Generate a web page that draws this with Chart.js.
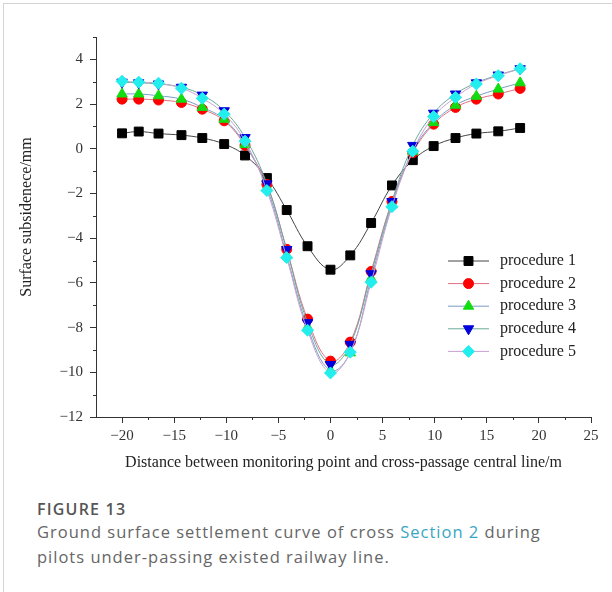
<!DOCTYPE html>
<html>
<head>
<meta charset="utf-8">
<script src="https://cdn.jsdelivr.net/npm/chart.js@4.4.1/dist/chart.umd.min.js"></script>
<style>
    html, body { margin: 0; padding: 0; background: #fff; }
    body { width: 612px; height: 592px; overflow: hidden; position: relative; }
    .card { position: absolute; left: 3px; top: 3px; width: 800px; height: 800px; border: 1px solid #d4d4d4; }
    #chart { position: absolute; left: 0; top: 0; }
    .fig-label { position: absolute; left: 37px; top: 499px; font: 600 16px/20px "Open Sans", sans-serif; letter-spacing: 1.2px; color: #555; }
    .fig-caption { position: absolute; left: 37px; top: 519px; width: 570px; font: 400 16.5px/25px "Open Sans", sans-serif; letter-spacing: 1px; color: #666; white-space: nowrap; }
    .fig-caption span { color: #3aa6c4; }
</style>
</head>
<body>
<div class="card"></div>
<canvas id="chart" width="612" height="480"></canvas>
<div class="fig-label">FIGURE 13</div>
<div class="fig-caption">Ground surface settlement curve of cross <span>Section 2</span> during<br>pilots under-passing existed railway line.</div>
<script>
// 數據
const distances = [-20, -18.4, -16.5, -14.3, -12.3, -10.2, -8.2, -6.1, -4.2, -2.2, 0, 1.9, 3.9, 5.9, 7.9, 9.9, 12, 14, 16.1, 18.2];
const procedure1 = [0.69, 0.77, 0.68, 0.61, 0.48, 0.21, -0.30, -1.31, -2.74, -4.36, -5.41, -4.77, -3.32, -1.64, -0.51, 0.12, 0.48, 0.68, 0.78, 0.93];
const procedure2 = [2.22, 2.22, 2.18, 2.07, 1.77, 1.25, 0.15, -1.60, -4.50, -7.62, -9.50, -8.65, -5.49, -2.36, -0.18, 1.10, 1.85, 2.22, 2.45, 2.70];
const procedure3 = [2.45, 2.45, 2.37, 2.22, 1.85, 1.32, 0.19, -1.75, -4.77, -7.98, -9.92, -9.13, -5.80, -2.51, -0.11, 1.17, 1.95, 2.35, 2.67, 2.95];
const procedure4 = [2.98, 2.95, 2.90, 2.75, 2.40, 1.70, 0.50, -1.57, -4.51, -7.78, -9.65, -8.75, -5.59, -2.36, 0.15, 1.59, 2.45, 2.95, 3.30, 3.58];
const procedure5 = [3.02, 2.98, 2.93, 2.71, 2.26, 1.55, 0.34, -1.87, -4.87, -8.12, -10.03, -9.10, -5.97, -2.59, -0.11, 1.44, 2.30, 2.90, 3.27, 3.58];
const seriesNames = ['procedure 1', 'procedure 2', 'procedure 3', 'procedure 4', 'procedure 5'];

const xTickValues = [-20, -15, -10, -5, 0, 5, 10, 15, 20, 25];
const xMinorTicks = [-17.5, -12.5, -7.5, -2.5, 2.5, 7.5, 12.5, 17.5, 22.5];
const yTickValues = [-12, -10, -8, -6, -4, -2, 0, 2, 4];
const yMinorTicks = [-11, -9, -7, -5, -3, -1, 1, 3, 5];

const xTitle = 'Distance between monitoring point and cross-passage central line/m';
const yTitle = 'Surface subsidenece/mm';

const axisColor = '#333';
const serif = '"Liberation Serif", "Times New Roman", serif';

// 每條曲線的樣式
const styles = [
    { line: '#444444', fill: '#000000', pointStyle: 'rect', radius: 6.3, rotation: 0 },
    { line: '#e07080', fill: '#ff0000', pointStyle: 'circle', radius: 5, rotation: 0 },
    { line: '#7a9cc6', fill: '#11dd11', pointStyle: 'triangle', radius: 6, rotation: 0 },
    { line: '#6aa89a', fill: '#0000dd', pointStyle: 'triangle', radius: 6, rotation: 180 },
    { line: '#c8a0d0', fill: '#22eeee', pointStyle: 'rectRot', radius: 6, rotation: 0 }
];

const seriesValues = [procedure1, procedure2, procedure3, procedure4, procedure5];

const datasets = seriesValues.map((values, i) => ({
    label: seriesNames[i],
    data: values.map((v, j) => ({ x: distances[j], y: v })),
    borderColor: styles[i].line,
    borderWidth: 1,
    backgroundColor: styles[i].fill,
    pointBackgroundColor: styles[i].fill,
    pointBorderColor: styles[i].fill,
    pointBorderWidth: 1,
    pointStyle: styles[i].pointStyle,
    pointRadius: styles[i].radius,
    pointRotation: styles[i].rotation,
    tension: 0.4,
    fill: false,
    order: seriesValues.length - i
}));

function fmt(value) {
    return String(value).replace('-', '\u2212');
}

// 次刻度、縱軸標題、圖例
const extrasPlugin = {
    id: 'extras',
    afterDraw(chart) {
        const ctx = chart.ctx;
        const xs = chart.scales.x;
        const ys = chart.scales.y;
        ctx.save();
        ctx.strokeStyle = axisColor;
        ctx.lineWidth = 1;
        ctx.beginPath();
        xMinorTicks.forEach(v => {
            const px = Math.round(xs.getPixelForValue(v)) + 0.5;
            ctx.moveTo(px, xs.top);
            ctx.lineTo(px, xs.top + 3);
        });
        yMinorTicks.forEach(v => {
            const py = Math.round(ys.getPixelForValue(v)) + 0.5;
            ctx.moveTo(ys.right, py);
            ctx.lineTo(ys.right - 3, py);
        });
        ctx.stroke();

        ctx.save();
        ctx.translate(27, 217);
        ctx.rotate(-Math.PI / 2);
        ctx.font = '16px ' + serif;
        ctx.fillStyle = '#222';
        ctx.textAlign = 'center';
        ctx.textBaseline = 'middle';
        ctx.fillText(yTitle, 0, 0);
        ctx.restore();

        // 圖例
        const legendTop = 261;
        const legendGap = 22.6;
        chart.data.datasets.forEach((ds, i) => {
            const y = legendTop + i * legendGap;
            ctx.strokeStyle = ds.borderColor;
            ctx.lineWidth = 1;
            ctx.beginPath();
            ctx.moveTo(448, y);
            ctx.lineTo(489, y);
            ctx.stroke();
            ctx.fillStyle = ds.pointBackgroundColor;
            ctx.strokeStyle = ds.pointBorderColor;
            Chart.helpers.drawPoint(ctx, {
                pointStyle: ds.pointStyle,
                radius: ds.pointRadius,
                rotation: ds.pointRotation,
                borderWidth: 1
            }, 468.5, y);
            ctx.fillStyle = '#222';
            ctx.font = '16px ' + serif;
            ctx.textAlign = 'left';
            ctx.textBaseline = 'middle';
            ctx.fillText(ds.label, 500, y);
        });
        ctx.restore();
    }
};

new Chart(document.getElementById('chart'), {
    type: 'line',
    data: { datasets: datasets },
    options: {
        responsive: false,
        animation: false,
        devicePixelRatio: 1,
        layout: { padding: { left: 0, right: 21, top: 37, bottom: 0 } },
        plugins: {
            legend: { display: false },
            tooltip: { enabled: false }
        },
        scales: {
            x: {
                type: 'linear',
                min: -22.5,
                max: 25,
                afterBuildTicks: scale => { scale.ticks = xTickValues.map(v => ({ value: v })); },
                afterFit: scale => { scale.height = 63; },
                grid: { drawOnChartArea: false, drawTicks: true, tickLength: 6, color: axisColor },
                border: { display: true, color: axisColor, width: 1 },
                ticks: {
                    color: '#333',
                    font: { family: serif, size: 15 },
                    padding: 4,
                    maxRotation: 0,
                    callback: fmt
                },
                title: {
                    display: true,
                    text: xTitle,
                    color: '#222',
                    font: { family: serif, size: 16 },
                    padding: { top: 0, bottom: 8 }
                }
            },
            y: {
                type: 'linear',
                min: -12,
                max: 5,
                afterBuildTicks: scale => { scale.ticks = yTickValues.map(v => ({ value: v })); },
                afterFit: scale => { scale.width = 96; },
                grid: { drawOnChartArea: false, drawTicks: true, tickLength: 6, color: axisColor },
                border: { display: true, color: axisColor, width: 1 },
                ticks: {
                    color: '#333',
                    font: { family: serif, size: 15 },
                    padding: 7,
                    callback: fmt
                }
            }
        }
    },
    plugins: [extrasPlugin]
});
</script>
</body>
</html>
